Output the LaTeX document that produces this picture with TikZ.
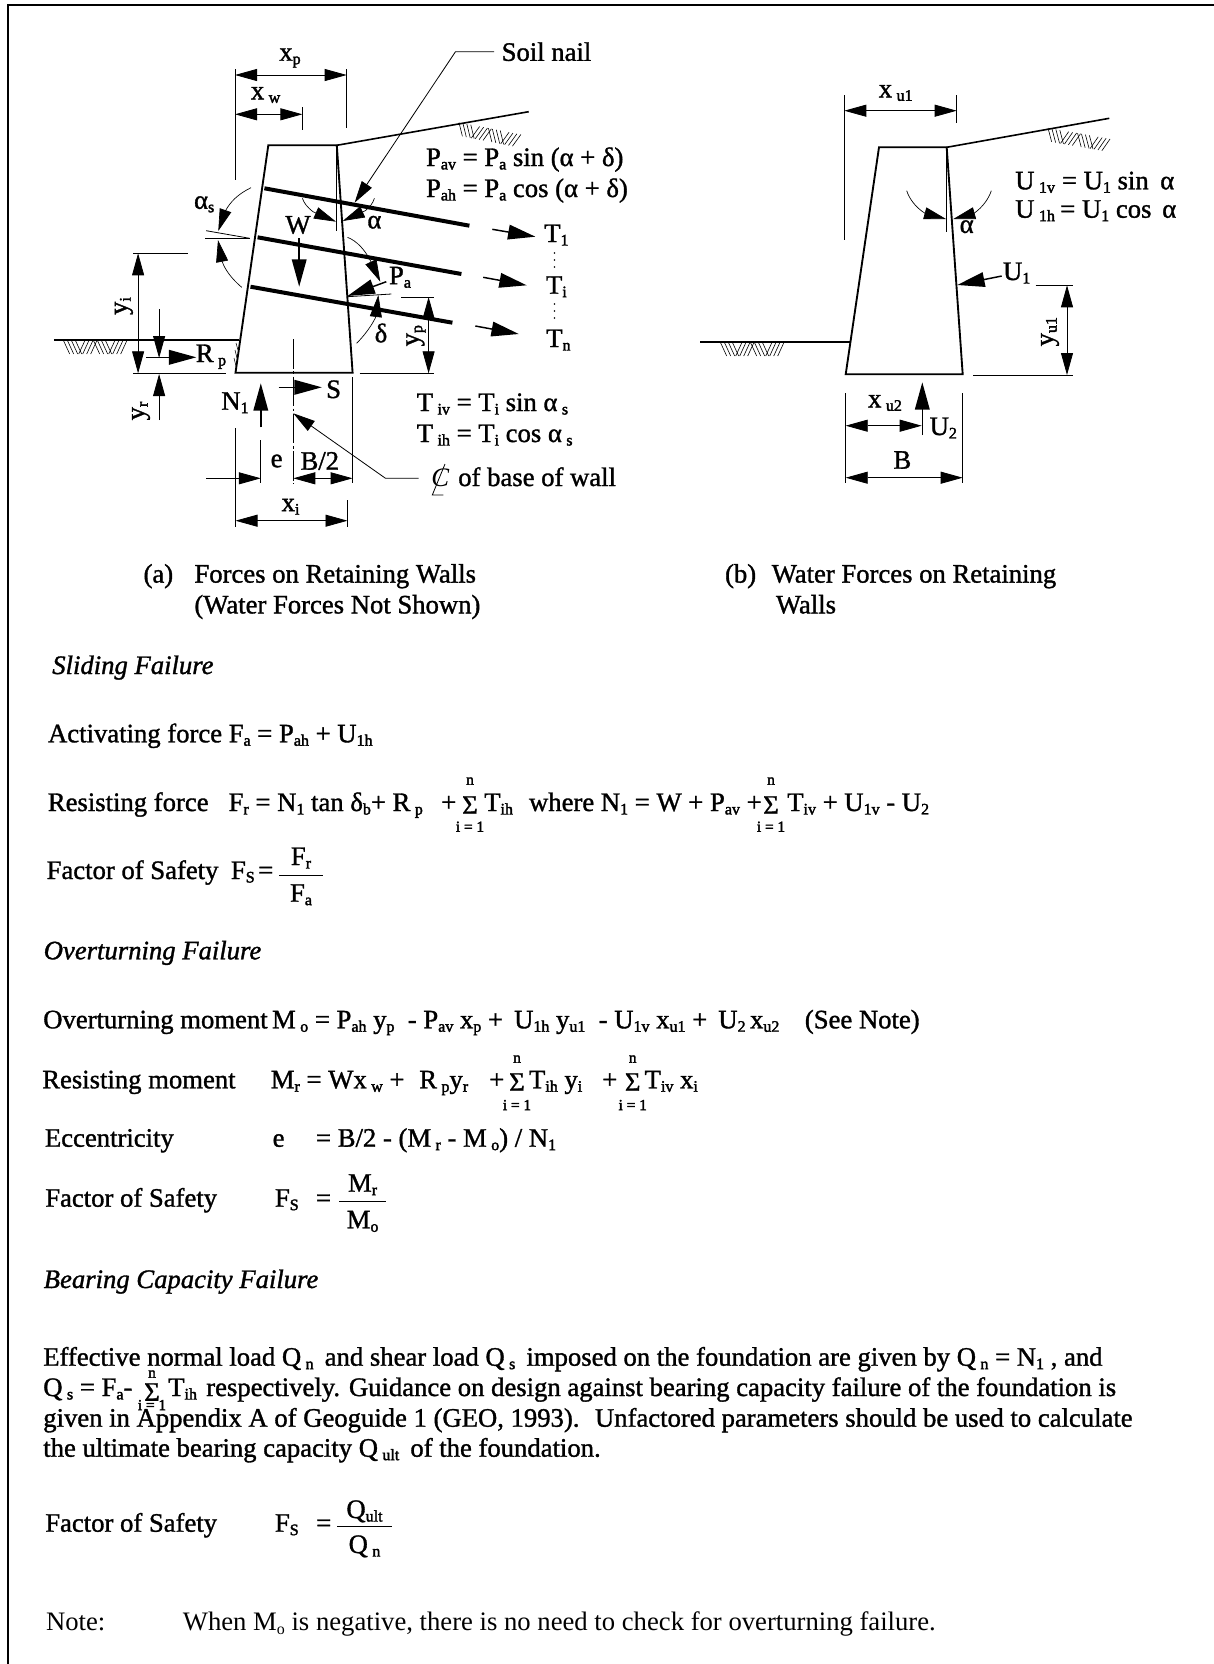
\documentclass[tikz,border=0pt]{standalone}
\usepackage{fontspec}
\setmainfont{Liberation Serif}
\usetikzlibrary{arrows.meta}
\newcommand{\lo}[1]{\raisebox{-0.28ex}{\fontsize{12pt}{12pt}\selectfont #1}}
\tikzset{
  x=0.75pt, y=-0.75pt,
  headtip/.style = {-{Triangle[length=16.5pt,width=9pt]}},
  bigtip/.style = {-{Triangle[length=20.5pt,width=11pt]}},
  bothtips/.style = {{Triangle[length=16.5pt,width=9pt]}-{Triangle[length=16.5pt,width=9pt]}},
  wall/.style = {line width=1.4pt, line join=miter},
  ground/.style = {line width=1.2pt},
  nail/.style = {line width=3pt},
  thin line/.style = {line width=0.6pt},
  force/.style = {line width=1.1pt, bigtip},
  dim/.style = {line width=0.6pt, bothtips},
  curved/.style = {line width=0.5pt, headtip},
  heavy/.style = {execute at begin node={\special{pdf:code 2 Tr 0.25 w}}, execute at end node={\special{pdf:code 0 Tr}}},
  lbl/.style = {inner sep=0pt, heavy, font=\fontsize{20pt}{22pt}\selectfont},
  txt/.style = {inner sep=0pt, heavy, anchor=base west, font=\fontsize{20pt}{22pt}\selectfont},
  headtxt/.style = {txt, font=\fontsize{20pt}{22pt}\selectfont\itshape},
  plain/.style = {inner sep=0pt, anchor=base west, font=\fontsize{20pt}{22pt}\selectfont},
  tiny/.style = {inner sep=0pt, heavy, font=\fontsize{11.5pt}{12pt}\selectfont},
  soil/.pic = {
    \foreach \g/\s in {0/1,15/-1,30/1,45/-1}
      \foreach \k in {0,4,8,12}
        \draw[line width=0.45pt] ({\g+\k+(\s>0?0:6)},0) -- ++({\s*6},13);
  }
}
\begin{document}
\begin{tikzpicture}
	\useasboundingbox (0,0) rectangle (1214,1664);
	\draw[line width=1.6pt] (8,1664) -- (8,5) -- (1214,5);

	% wall (a)
	\coordinate (ta) at (268.3,145.3);
	\coordinate (tb) at (336.8,145.3);
	\coordinate (bb) at (352.6,372.7);
	\coordinate (ba) at (235.5,372.7);
	\draw[wall] (tb) -- (ta) -- (ba) -- (bb) -- cycle;
	\draw[ground] (tb) -- (528.7,111.7);
	\draw[ground] (53.9,340) -- (239,340);
	\pic at (63.7,341) {soil};
	\pic[rotate=-11] at (459,122.5) {soil};
	\draw[line width=0.4pt] (236,343) -- (238,350) (235,350) -- (237,358) (234,358) -- (236,366);
	\draw[nail] (264.4,188.3) -- (469.4,225.7);
	\draw[nail] (257.6,237.3) -- (461.4,274);
	\draw[nail] (250.5,286.7) -- (452.4,322.7);
	\draw[thin line] (tb) -- (336.8,230.7);

	% dimensions on top
	\draw[thin line] (235,69) -- (235,180);
	\draw[thin line] (346.7,69) -- (346.7,127.7);
	\draw[thin line] (302.4,107) -- (302.4,130);
	\draw[dim] (235,75) -- (346.7,75);
	\draw[dim] (235,114.3) -- (302.4,114.3);
	\node[lbl] (xp) at (290,58) {x\lo{p}};
	\node[lbl] (xw) at (265.6,95) {x\,\lo{w}};

	% soil nail leader
	\node[lbl] (nail) at (546.5,51.7) {Soil nail};
	\draw[thin line, headtip] (494,51.7) -- (455.5,51.7) -- (354.6,202.7);

	% formulas
	\node[txt] (pav) at (425.8,166) {P\lo{av} = P\lo{a} sin (α + δ)};
	\node[txt] (pah) at (425.8,197) {P\lo{ah} = P\lo{a} cos (α + δ)};

	% nail forces
	\draw[force] (492.3,229.3) -- (535.4,236.7);
	\draw[force] (483.2,277.3) -- (526.7,285.3);
	\draw[force] (475.3,326) -- (518.8,334);
	\node[lbl] (t1) at (556.4,235) {T\lo{1}};
	\node[lbl] (ti) at (556.4,286.7) {T\lo{i}};
	\node[lbl] (tn) at (558.4,340) {T\lo{n}};
	\foreach \y in {253,260,267,304,311,318}
		\fill (554.5,\y) circle (0.9);

	% angles
	\draw[curved] (302.4,198.3) .. controls (304,203) and (307,207) .. (313,211.7) -- (336,221.7);
	\draw[curved] (374.4,198.3) .. controls (373,203) and (370,207) .. (365.3,210.7) -- (342.7,221);
	\node[lbl] (al) at (374.4,222.3) {α};
	\node[lbl] (w) at (298,225) {W};
	\draw[force] (299.2,238.3) -- (299.2,286.7);
	\node[lbl] (as) at (204.2,204.3) {α\lo{s}};
	\draw[curved] (251,187.7) .. controls (238,194) and (230,202) .. (225,211.7) -- (218.3,231);
	\draw[curved] (241.7,287.3) .. controls (232,279) and (225,270) .. (222,261) -- (218,240);
	\draw[thin line] (206.2,230.7) -- (249.7,238.3);
	\draw[thin line] (205.4,238) -- (249.7,238);
	\draw[force] (386.3,281.7) -- (347.5,296);
	\node[lbl] (pa) at (400,277.3) {P\lo{a}};
	\draw[curved] (347.5,237.3) .. controls (357,241) and (365,250) .. (370.4,260.7) -- (380.3,281.7);
	\draw[thin line] (347.5,296.7) -- (391.4,294);
	\draw[curved] (356.6,343.3) .. controls (363,337) and (371,327) .. (375.8,317) -- (378.4,295);
	\node[lbl] (de) at (381,333) {δ};

	% yp, yi, yr, Rp
	\draw[thin line] (401.3,297) -- (433.7,297);
	\draw[thin line] (359.7,373.3) -- (433.7,373.3);
	\draw[dim] (428.6,297) -- (428.6,373.3);
	\node[lbl, rotate=90] (yp) at (416,335.7) {y\lo{p}};
	\draw[thin line] (133,253.3) -- (188.4,253.3);
	\draw[thin line] (133,373.3) -- (226,373.3);
	\draw[dim] (138.1,253.3) -- (138.1,373.3);
	\node[lbl, rotate=90] (yi) at (123.9,306) {y\lo{i}};
	\draw[thin line, headtip] (159.1,309.3) -- (159.1,358);
	\draw[thin line, headtip] (159.1,420) -- (159.1,374);
	\node[lbl, rotate=90] (yr) at (141,411) {y\lo{r}};
	\draw[force] (146,357.3) -- (196.3,357.3);
	\node[lbl] (rp) at (211,356.7) {R\,\lo{p}};

	% base of wall
	\draw[thin line, dash pattern=on 22pt off 2pt on 2pt off 2pt] (293.3,339.3) -- (293.3,484);
	\draw[force] (278.6,387.3) -- (321.8,387.3);
	\node[lbl] (s) at (333.6,389.3) {S};
	\draw[force] (260.8,427.3) -- (260.8,383.3);
	\node[lbl] (n1) at (235,402.7) {N\lo{1}};
	\draw[thin line] (235.5,428.3) -- (235.5,526.7);
	\draw[thin line] (260.8,440) -- (260.8,483);
	\draw[thin line] (352.6,377) -- (352.6,483);
	\draw[thin line] (347.5,500) -- (347.5,526.7);
	\draw[thin line, headtip] (206.2,478.3) -- (260.8,478.3);
	\draw[dim] (293.3,478.3) -- (352.6,478.3);
	\draw[dim] (235.5,520.7) -- (347.5,520.7);
	\node[lbl] (e) at (276.6,461) {e};
	\node[lbl] (b2) at (319.8,461) {B/2};
	\node[lbl] (xi) at (290.5,506.7) {x\lo{i}};
	\draw[thin line, headtip] (418.7,478.3) -- (385.5,478.3) -- (293.3,413.3);
	\node[plain] (cl) at (431,486) {\itshape C};
	\draw[thin line] (445,464) -- (432.3,495) -- (443.3,495);
	\node[txt] (cltxt) at (458,486) {of base of wall};
	\node[txt] (tiv) at (416.5,411) {T\,\lo{iv} = T\lo{i} sin α\,\lo{s}};
	\node[txt] (tih) at (416.5,442) {T\,\lo{ih} = T\lo{i} cos α\,\lo{s}};

	% captions
	\node[txt] (capa) at (143.3,582.6) {(a)};
	\node[txt] (capb) at (194.2,582.6) {Forces on Retaining Walls};
	\node[txt] (capc) at (194.2,613.4) {(Water Forces Not Shown)};
	\node[txt] (capd) at (724.8,582.6) {(b)};
	\node[txt] (cape) at (771.5,582.6) {Water Forces on Retaining};
	\node[txt] (capf) at (775.7,613.4) {Walls};

	% wall (b)
	\coordinate (tc) at (879,147.3);
	\coordinate (td) at (946.7,147.3);
	\coordinate (bd) at (962.7,374.3);
	\coordinate (bc) at (845.7,374.3);
	\draw[wall] (td) -- (tc) -- (bc) -- (bd) -- cycle;
	\draw[ground] (td) -- (1109.3,118.3);
	\draw[ground] (700,341.7) -- (850,341.7);
	\pic at (720.7,343) {soil};
	\pic[rotate=-10] at (1048,128) {soil};
	\draw[thin line] (td) -- (946.7,231.7);
	\draw[thin line] (844,95) -- (844,240);
	\draw[thin line] (956.7,95) -- (956.7,123.3);
	\draw[dim] (844.3,110.7) -- (956.7,110.7);
	\node[lbl] (xu1) at (895.7,93) {x\,\lo{u1}};
	\draw[curved] (906.7,190.7) .. controls (909,198) and (915,207) .. (925,213.3) -- (946,219);
	\draw[curved] (991.3,190.7) .. controls (989,198) and (983,207) .. (974,213.3) -- (953.3,219);
	\node[lbl] (alb) at (966.7,226.7) {α};
	\node[txt] (uv) at (1015,189.3) {U\,\lo{1v}};
	\node[txt] (uh) at (1015,217.7) {U\,\lo{1h}};
	\node[txt] (uv2) at (1061.7,189.3) {= U\lo{1} sin};
	\node[txt] (uh2) at (1060,217.7) {= U\lo{1} cos};
	\node[txt] (uv3) at (1160,189.3) {α};
	\node[txt] (uh3) at (1162,217.7) {α};
	\draw[force] (1001.7,276) -- (957.3,285);
	\node[lbl] (u1) at (1016.7,273) {U\lo{1}};
	\draw[thin line] (1035.7,285.3) -- (1072.7,285.3);
	\draw[thin line] (973.3,375) -- (1072.7,375);
	\draw[dim] (1067,285.3) -- (1067,375);
	\node[lbl, rotate=90] (yu1) at (1050,331.7) {y\lo{u1}};
	\draw[force] (922.3,435) -- (922.3,382.3);
	\node[lbl] (u2) at (943.3,428) {U\lo{2}};
	\draw[thin line] (845.7,393.3) -- (845.7,483.3);
	\draw[thin line] (962.7,393.3) -- (962.7,483.3);
	\draw[dim] (845.7,425.7) -- (921.7,425.7);
	\draw[dim] (845.7,477.7) -- (962.7,477.7);
	\node[lbl] (xu2) at (885,403) {x\,\lo{u2}};
	\node[lbl] (bw) at (902.3,460) {B};

	% sliding
	\node[headtxt] (hs) at (52,674) {Sliding Failure};
	\node[txt] (a1) at (47.8,742.3) {Activating force F\lo{a} = P\lo{ah} + U\lo{1h}};
	\node[txt] (a2) at (47.6,811) {Resisting force};
	\node[txt] (a3) at (228.4,811) {F\lo{r} = N\lo{1} tan δ\lo{b}+ R\,\lo{p}};
	\node[txt] (a3b) at (441,811) {+};
	\node[lbl] (a4) at (470,805) {Σ};
	\node[tiny] (a5) at (470,781) {n};
	\node[tiny] (a6) at (470,826.7) {i = 1};
	\node[txt] (a7) at (484,811) {T\lo{ih}};
	\node[txt] (a8) at (528.8,811) {where N\lo{1} = W + P\lo{av} +};
	\node[lbl] (a9) at (771,805) {Σ};
	\node[tiny] (a10) at (771,781) {n};
	\node[tiny] (a11) at (771,826.7) {i = 1};
	\node[txt] (a12) at (787,811) {T\lo{iv} + U\lo{1v} - U\lo{2}};
	\node[txt] (a13) at (46.4,879) {Factor of Safety};
	\node[txt] (a14) at (230.7,879) {F\lo{S}};
	\node[txt] (a14b) at (258,879) {=};
	\draw[thin line] (279.4,875.7) -- (323.4,875.7);
	\node[txt, anchor=base] (a15) at (301,865) {F\lo{r}};
	\node[txt, anchor=base] (a16) at (301,901.7) {F\lo{a}};

	% overturning
	\node[headtxt] (ho) at (43.5,959.3) {Overturning Failure};
	\node[txt] (b1) at (43,1028.3) {Overturning moment};
	\node[txt] (b2b) at (271.8,1028.3) {M\,\lo{o} = P\lo{ah} y\lo{p} \ - P\lo{av} x\lo{p} + \,U\lo{1h} y\lo{u1} \ - U\lo{1v} x\lo{u1} + \,U\lo{2}\,x\lo{u2}};
	\node[txt] (b3) at (804.6,1028.3) {(See Note)};
	\node[txt] (b4) at (42,1088.3) {Resisting moment};
	\node[txt] (b5) at (270.6,1088.3) {M\lo{r} = Wx\,\lo{w} +};
	\node[txt] (b5b) at (419,1088.3) {R\,\lo{p}y\lo{r}};
	\node[txt] (b5c) at (489,1088.3) {+};
	\node[lbl] (b6) at (517,1082) {Σ};
	\node[tiny] (b7) at (517,1059) {n};
	\node[tiny] (b8) at (517,1105) {i = 1};
	\node[txt] (b9) at (528.8,1088.3) {T\lo{ih} y\lo{i}};
	\node[txt] (b10) at (602,1088.3) {+};
	\node[lbl] (b11) at (632.7,1082) {Σ};
	\node[tiny] (b12) at (632.7,1059) {n};
	\node[tiny] (b13) at (632.7,1105) {i = 1};
	\node[txt] (b14) at (644.4,1088.3) {T\lo{iv} x\lo{i}};
	\node[txt] (b15) at (44.7,1146.7) {Eccentricity};
	\node[txt] (b16) at (272.4,1146.7) {e};
	\node[txt] (b17) at (315.8,1146.7) {= B/2 - (M\,\lo{r} - M\,\lo{o}) / N\lo{1}};
	\node[txt] (b18) at (45,1206.7) {Factor of Safety};
	\node[txt] (b19) at (274.7,1206.7) {F\lo{S}};
	\node[txt] (b20) at (315.8,1206.7) {=};
	\draw[thin line] (339.3,1201) -- (386,1201);
	\node[txt, anchor=base] (b21) at (362.6,1191.7) {M\lo{r}};
	\node[txt, anchor=base] (b22) at (362.6,1228.3) {M\lo{o}};

	% bearing capacity
	\node[headtxt] (hb) at (43.5,1288) {Bearing Capacity Failure};
	\node[txt] (c1) at (43,1365.7) {Effective normal load Q\,\lo{n} \,and shear load Q\,\lo{s} \,imposed on the foundation are given by Q\,\lo{n} = N\lo{1} , and};
	\node[txt] (c2) at (43,1396) {Q\,\lo{s} = F\lo{a}-};
	\node[lbl] (c3) at (152,1392) {Σ};
	\node[tiny] (c4) at (152,1374) {n};
	\node[tiny] (c5) at (152,1405) {i = 1};
	\node[txt] (c6) at (168,1396) {T\lo{ih}};
	\node[txt] (c6b) at (206,1396) {respectively. Guidance on design against bearing capacity failure of the foundation is};
	\node[txt] (c7) at (43,1426.7) {given in Appendix A of Geoguide 1 (GEO, 1993). \ Unfactored parameters should be used to calculate};
	\node[txt] (c8) at (43,1456.7) {the ultimate bearing capacity Q\,\lo{ult} \,of the foundation.};
	\node[txt] (c9) at (45,1531.7) {Factor of Safety};
	\node[txt] (c10) at (274.7,1531.7) {F\lo{S}};
	\node[txt] (c11) at (316,1531.7) {=};
	\draw[thin line] (337,1526.7) -- (392,1526.7);
	\node[txt, anchor=base] (c12) at (364.5,1518) {Q\lo{ult}};
	\node[txt, anchor=base] (c13) at (364.5,1553) {Q\,\lo{n}};

	% note
	\node[plain] (n1b) at (45.8,1630.7) {Note:};
	\node[plain] (n2b) at (182.6,1630.7) {When M\lo{o} is negative, there is no need to check for overturning failure.};
\end{tikzpicture}
\end{document}
